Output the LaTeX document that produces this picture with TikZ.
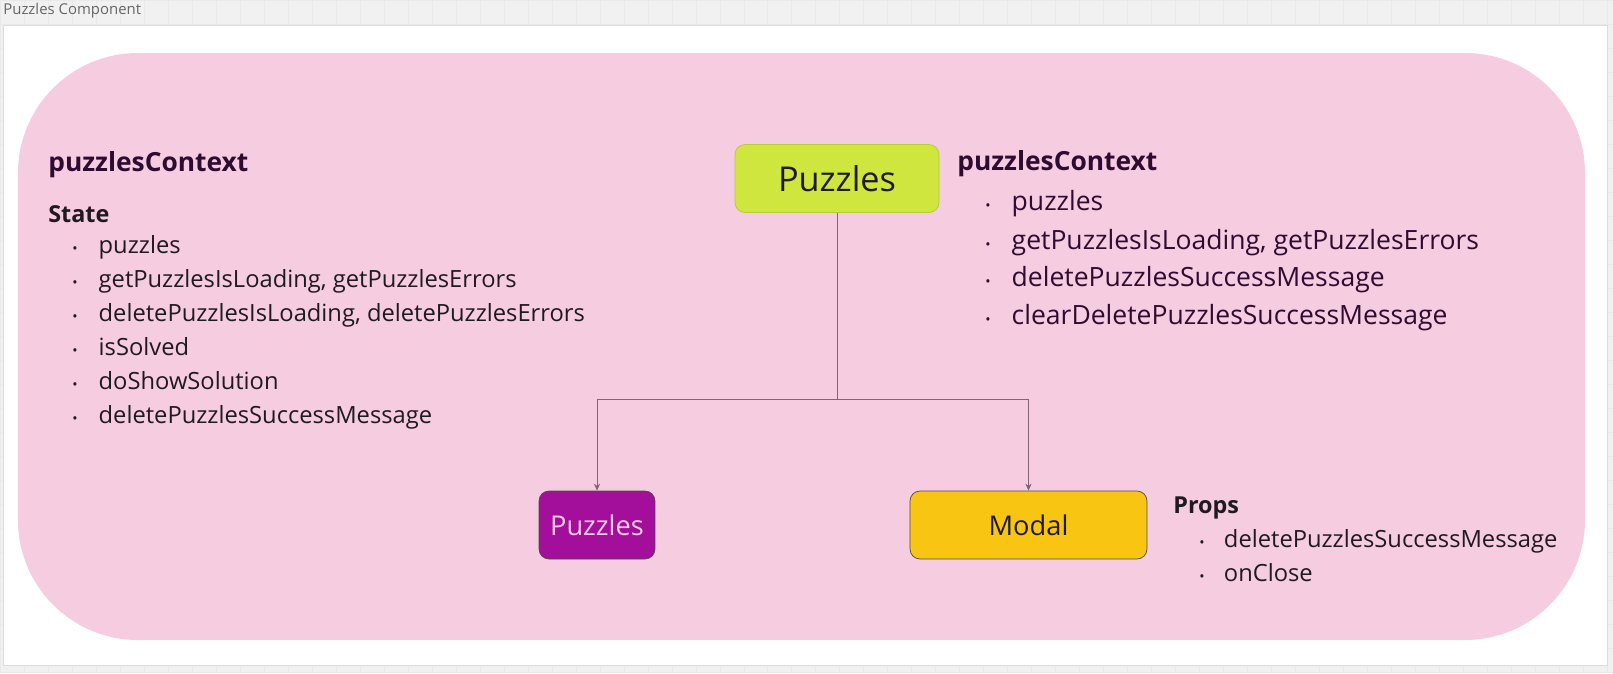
\documentclass[tikz,border=0pt]{standalone}
\usepackage{fontspec}
\setmainfont{Open Sans}
\usetikzlibrary{positioning,arrows.meta}

\definecolor{canvas}{HTML}{F1F1F1}
\definecolor{gridline}{HTML}{E9E9E9}
\definecolor{framegray}{HTML}{DCDCDC}
\definecolor{pinkbg}{HTML}{F6CCE0}
\definecolor{limebox}{HTML}{CFE63F}
\definecolor{limeedge}{HTML}{B5C93A}
\definecolor{purplebox}{HTML}{A30E9B}
\definecolor{yellowbox}{HTML}{F8C612}
\definecolor{ctxtext}{HTML}{2E0B30}
\definecolor{darktext}{HTML}{1F1A1F}
\definecolor{linkline}{HTML}{806478}

\newcommand{\bul}[1][15pt]{\makebox[#1][l]{\footnotesize\textbullet}}

\begin{document}
\begin{tikzpicture}[x=0.02cm, y=-0.02cm, >={Stealth[length=4pt,width=3.5pt]}]

    % Define block styles
    \tikzstyle{comp} = [draw, rounded corners=0.2cm, minimum height=1.36cm, inner sep=0pt, font=\fontsize{15.5}{18}\selectfont]
    \tikzstyle{heading} = [anchor=west, inner sep=0pt, font=\fontsize{15}{18}\selectfont\bfseries, text=ctxtext]
    \tikzstyle{subhead} = [anchor=west, inner sep=0pt, font=\fontsize{13.3}{16}\selectfont\bfseries, text=darktext]
    \tikzstyle{item} = [anchor=west, inner sep=0pt, text height=1.6ex, text depth=0.45ex, font=\fontsize{13.5}{16}\selectfont, text=darktext]
    \tikzstyle{bigitem} = [item, font=\fontsize{15.1}{18}\selectfont, text=ctxtext]

    % Canvas and frame
    \useasboundingbox (0,0) rectangle (1613,673);
    \fill[canvas] (0,0) rectangle (1613,673);
    \draw[gridline, step=0.48cm] (0,0) grid (1613,673);
    \node[anchor=north west, inner sep=0pt, text=black!60, font=\fontsize{8.5}{10}\selectfont] (title) at (3,3) {Puzzles Component};
    \draw[framegray, fill=white] (3,25) rectangle (1607,665);
    \fill[pinkbg, rounded corners=2.4cm] (18,53) rectangle (1585,640);

    % Components
    \node[comp, fill=limebox, draw=limeedge, minimum width=4.08cm, text=darktext, font=\fontsize{19.5}{22}\selectfont] (parent) at (837,178.5) {Puzzles};
    \node[comp, fill=purplebox, draw=black!70, minimum width=2.32cm, text=pinkbg] (puzzles) at (597,525) {Puzzles};
    \node[comp, fill=yellowbox, draw=black!70, minimum width=4.74cm, text=darktext] (modal) at (1028.5,525) {Modal};

    \coordinate (split) at (837,399);
    \draw[linkline] (parent) -- (split);
    \draw[linkline, ->] (split) -| (puzzles);
    \draw[linkline, ->] (split) -| (modal);

    % Left: context state
    \node[heading] (ctxL) at (48,165) {puzzlesContext};
    \node[subhead] (state) at (48,214) {State};
    \node[item] (s1) at (72,248) {\bul puzzles};
    \node[item] (s2) at (72,282) {\bul getPuzzlesIsLoading, getPuzzlesErrors};
    \node[item] (s3) at (72,316) {\bul deletePuzzlesIsLoading, deletePuzzlesErrors};
    \node[item] (s4) at (72,350) {\bul isSolved};
    \node[item] (s5) at (72,384) {\bul doShowSolution};
    \node[item] (s6) at (72,418) {\bul deletePuzzlesSuccessMessage};

    % Right: context used by Puzzles
    \node[heading] (ctxR) at (957,164) {puzzlesContext};
    \node[bigitem] (c1) at (985,205) {\bul puzzles};
    \node[bigitem] (c2) at (985,244) {\bul getPuzzlesIsLoading, getPuzzlesErrors};
    \node[bigitem] (c3) at (985,281) {\bul deletePuzzlesSuccessMessage};
    \node[bigitem] (c4) at (985,319) {\bul clearDeletePuzzlesSuccessMessage};

    % Modal props
    \node[subhead] (props) at (1173,508) {Props};
    \node[item] (p1) at (1199,542) {\bul[10.5pt] deletePuzzlesSuccessMessage};
    \node[item] (p2) at (1199,576) {\bul[10.5pt] onClose};

\end{tikzpicture}
\end{document}
